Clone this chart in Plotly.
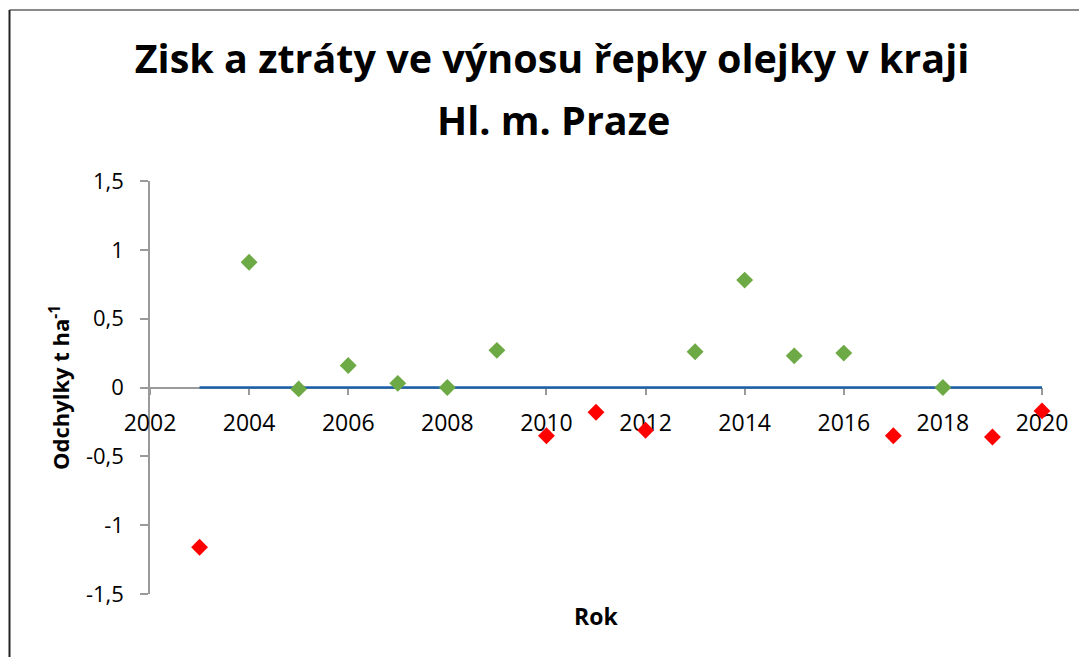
import plotly.graph_objects as go

years_gain = [2004, 2005, 2006, 2007, 2008, 2009, 2013, 2014, 2015, 2016, 2018]
values_gain = [0.91, -0.01, 0.16, 0.03, 0.00, 0.27, 0.26, 0.78, 0.23, 0.25, 0.00]
years_loss = [2003, 2010, 2011, 2012, 2017, 2019, 2020]
values_loss = [-1.16, -0.35, -0.18, -0.31, -0.35, -0.36, -0.17]
baseline_years = [2003, 2020]
baseline_values = [0, 0]

title_line1 = "Zisk a ztráty ve výnosu řepky olejky v kraji"
title_line2 = "Hl. m. Praze"
y_title = "Odchylky t ha<sup>-1</sup>"
x_title = "Rok"
y_tickvals = [-1.5, -1, -0.5, 0, 0.5, 1, 1.5]
y_ticktext = ["-1,5", "-1", "-0,5", "0", "0,5", "1", "1,5"]

FONT = "Open Sans"
OFF = 8  # page body margin
W, H = 1087 - OFF, 657 - OFF

fig = go.Figure()
fig.add_trace(go.Scatter(x=baseline_years, y=baseline_values, mode="lines",
                         line=dict(color="#1A5FA8", width=2.5), hoverinfo="skip"))
fig.add_trace(go.Scatter(x=years_gain, y=values_gain, mode="markers", cliponaxis=False,
                         marker=dict(symbol="diamond", size=13, color="#6DAA45")))
fig.add_trace(go.Scatter(x=years_loss, y=values_loss, mode="markers", cliponaxis=False,
                         marker=dict(symbol="diamond", size=13, color="#FF0000")))

# plot area in screen pixels: x 150..1042, y 181..594
L, R, T, B = 150 - OFF, 1087 - 1042, 181 - OFF, 657 - 594
pw, ph = W - L - R, H - T - B

def px_x(p):
    return (p - OFF - L) / pw

def px_y(p):
    return (H - B - (p - OFF)) / ph

fig.update_layout(
    width=W, height=H,
    margin=dict(l=L, r=R, t=T, b=B, autoexpand=False),
    paper_bgcolor="white", plot_bgcolor="white",
    showlegend=False,
    font=dict(family=FONT, color="black"),
    title=dict(text=title_line1, x=px_x(552), xref="paper", xanchor="center",
               y=1 - (59 - OFF) / H, yref="container", yanchor="middle",
               font=dict(family=FONT, size=39.5, color="black", weight="bold")),
    xaxis=dict(range=[2002, 2020], tick0=2002, dtick=2, showgrid=False, zeroline=False,
               showline=True, linecolor="#9A9A9A", linewidth=1.5, layer="below traces",
               ticks="outside", ticklen=7, tickcolor="#9A9A9A", tickwidth=1.5,
               anchor="free", position=0.5,
               tickfont=dict(family=FONT, size=23, color="black"),
               ticklabelstandoff=8),
    yaxis=dict(range=[-1.5, 1.5], tickvals=y_tickvals, ticktext=y_ticktext,
               showgrid=False, zeroline=False,
               showline=True, linecolor="#9A9A9A", linewidth=1.5, layer="below traces",
               ticks="outside", ticklen=8, tickcolor="#9A9A9A", tickwidth=1.5,
               tickfont=dict(family=FONT, size=22, color="black"),
               ticklabelstandoff=12,
               title=dict(text=y_title, standoff=10,
                          font=dict(family=FONT, size=22, color="black", weight="bold"))),
    annotations=[
        dict(text=title_line2, x=px_x(553), y=px_y(120), xref="paper", yref="paper",
             showarrow=False, xanchor="center", yanchor="middle",
             font=dict(family=FONT, size=39.5, color="black", weight="bold")),
        dict(text=x_title, x=px_x(596), y=px_y(616), xref="paper", yref="paper",
             showarrow=False, xanchor="center", yanchor="middle",
             font=dict(family=FONT, size=23, color="black", weight="bold")),
    ],
    shapes=[
        dict(type="line", xref="paper", yref="paper", x0=px_x(9.5), x1=px_x(1100),
             y0=px_y(10), y1=px_y(10), line=dict(color="#8A8A8A", width=2)),
        dict(type="line", xref="paper", yref="paper", x0=px_x(9.5), x1=px_x(9.5),
             y0=px_y(10), y1=px_y(670), line=dict(color="#222222", width=2)),
    ],
)

fig.write_html("out.html")
